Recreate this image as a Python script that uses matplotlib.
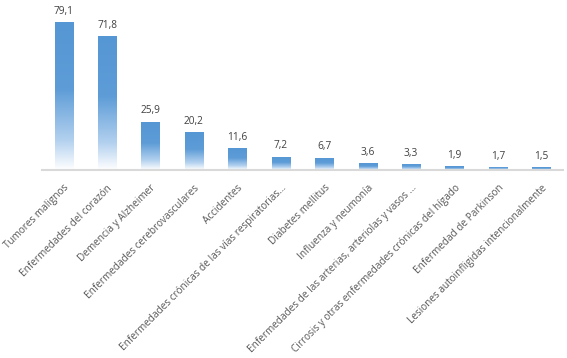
import numpy as np
import matplotlib
matplotlib.use('Agg')
import matplotlib.pyplot as plt
from matplotlib.colors import LinearSegmentedColormap

# --- data ---
causas = [
    'Tumores malignos',
    'Enfermedades del corazón',
    'Demencia y Alzheimer',
    'Enfermedades cerebrovasculares',
    'Accidentes',
    'Enfermedades crónicas de las vías respiratorias...',
    'Diabetes mellitus',
    'Influenza y neumonía',
    'Enfermedades de las arterias, arteriolas y vasos ...',
    'Cirrosis y otras enfermedades crónicas del hígado',
    'Enfermedad de Parkinson',
    'Lesiones autoinfligidas intencionalmente',
]
tasas = [79.1, 71.8, 25.9, 20.2, 11.6, 7.2, 6.7, 3.6, 3.3, 1.9, 1.7, 1.5]

plt.rcParams['font.family'] = ['Open Sans', 'DejaVu Sans']

fig = plt.figure(figsize=(5.67, 3.58), dpi=100)
ax = fig.add_axes([0.074, 0.525, 0.919, 0.47])

x = np.arange(len(tasas))
bars = ax.bar(x, tasas, width=0.42, color='none', edgecolor='none')

# gradient fill: blue at top fading to white at bottom
cmap = LinearSegmentedColormap.from_list(
    'grad', [(0, '#ffffff'), (0.2, '#b3d1ef'), (0.55, '#5d9cd7'), (1, '#5597d4')])
grad = np.linspace(0, 1, 256).reshape(-1, 1)
for b in bars:
    x0, y0 = b.get_x(), b.get_y()
    w, h = b.get_width(), b.get_height()
    im = ax.imshow(grad, cmap=cmap, origin='lower', aspect='auto',
                   extent=[x0, x0 + w, y0, y0 + h], zorder=2)
    im.set_clip_path(b)

for xi, v in zip(x, tasas):
    ax.text(xi, v + 2.8, f'{v:.1f}'.replace('.', ','), ha='center', va='bottom',
            fontsize=7.3, color='#404040')

ax.set_xlim(-0.5, len(tasas) - 0.5)
ax.set_ylim(0, 90)
ax.set_yticks([])
for s in ['top', 'right', 'left']:
    ax.spines[s].set_visible(False)
ax.spines['bottom'].set_color('#d9d9d9')
ax.spines['bottom'].set_linewidth(1.5)

ax.set_xticks(x)
ax.set_xticklabels(causas, rotation=45, ha='right', rotation_mode='anchor',
                   fontsize=7.2, color='#595959')
ax.tick_params(axis='x', length=0, pad=9)

fig.savefig('out.png', dpi=100)
